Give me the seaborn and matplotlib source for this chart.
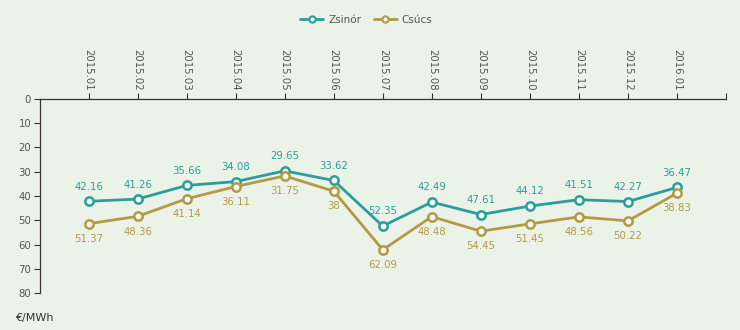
import matplotlib
matplotlib.use("Agg")
import matplotlib.pyplot as plt
import seaborn as sns
import pandas as pd

months = ["2015.01", "2015.02", "2015.03", "2015.04", "2015.05", "2015.06", "2015.07",
          "2015.08", "2015.09", "2015.10", "2015.11", "2015.12", "2016.01"]
zsinor = [42.16, 41.26, 35.66, 34.08, 29.65, 33.62, 52.35, 42.49, 47.61, 44.12, 41.51, 42.27, 36.47]
csucs = [51.37, 48.36, 41.14, 36.11, 31.75, 38, 62.09, 48.48, 54.45, 51.45, 48.56, 50.22, 38.83]
series_names = ["Zsinór", "Csúcs"]
unit_label = "€/MWh"

BG = "#ebf2e8"
TEAL = "#2a9e9c"
GOLD = "#b39a45"
AXC = "#333333"

sns.set_theme(style="white")
plt.rcParams["font.family"] = ["DejaVu Sans"]

fig = plt.figure(figsize=(7.4, 3.3), dpi=100, facecolor=BG)
ax = fig.add_axes([0.0534, 0.111, 0.9277, 0.590])
ax.set_facecolor(BG)

df = pd.DataFrame({"idx": list(range(len(months))) * 2,
                   "val": zsinor + csucs,
                   "series": [series_names[0]] * len(months) + [series_names[1]] * len(months)})

sns.lineplot(data=df, x="idx", y="val", hue="series", palette=[TEAL, GOLD], ax=ax,
             marker="o", markersize=6, markerfacecolor="#f6f9f4", markeredgewidth=1.8,
             linewidth=2, legend=False)
for line, c in zip(ax.lines, [TEAL, GOLD]):
    line.set_markeredgecolor(c)

for i, v in enumerate(zsinor):
    ax.annotate(f"{v:g}", (i, v), textcoords="offset points", xytext=(0, 10.5),
                ha="center", va="center", fontsize=7.3, color=TEAL)
for i, v in enumerate(csucs):
    ax.annotate(f"{v:g}", (i, v), textcoords="offset points", xytext=(0, -11),
                ha="center", va="center", fontsize=7.3, color=GOLD)

ax.set_xlim(-1, len(months))
ax.set_ylim(80, 0)
ax.xaxis.tick_top()
ax.set_xticks(list(range(len(months) + 1)))
ax.set_xticklabels(months + [""], rotation=-90, fontsize=7.3, color="#555555")
ax.set_yticks(list(range(0, 81, 10)))
ax.set_yticklabels([str(t) for t in range(0, 81, 10)], fontsize=7.3, color="#555555")
ax.tick_params(axis="x", which="both", top=True, bottom=False, length=4, width=0.8,
               color=AXC, pad=2, labelbottom=False, labeltop=True)
ax.tick_params(axis="y", length=4, width=0.8, color=AXC, pad=2, left=True)
for s in ["bottom", "right"]:
    ax.spines[s].set_visible(False)
for s in ["top", "left"]:
    ax.spines[s].set_color(AXC)
    ax.spines[s].set_linewidth(0.9)
ax.set_xlabel("")
ax.set_ylabel("")
ax.grid(False)

handles = [plt.Line2D([], [], color=c, marker="o", markersize=4.5, markerfacecolor="#f6f9f4",
                      markeredgewidth=1.5, linewidth=2) for c in [TEAL, GOLD]]
fig.legend(handles, series_names, loc="center", bbox_to_anchor=(0.495, 0.94), ncol=2,
           frameon=False, fontsize=7.5, handlelength=2.2, columnspacing=1.2,
           handletextpad=0.5, labelcolor="#555555")

fig.text(0.02, 0.035, unit_label, fontsize=8, color="#333333", ha="left", va="center")

fig.savefig("out.png", dpi=100, facecolor=BG)
